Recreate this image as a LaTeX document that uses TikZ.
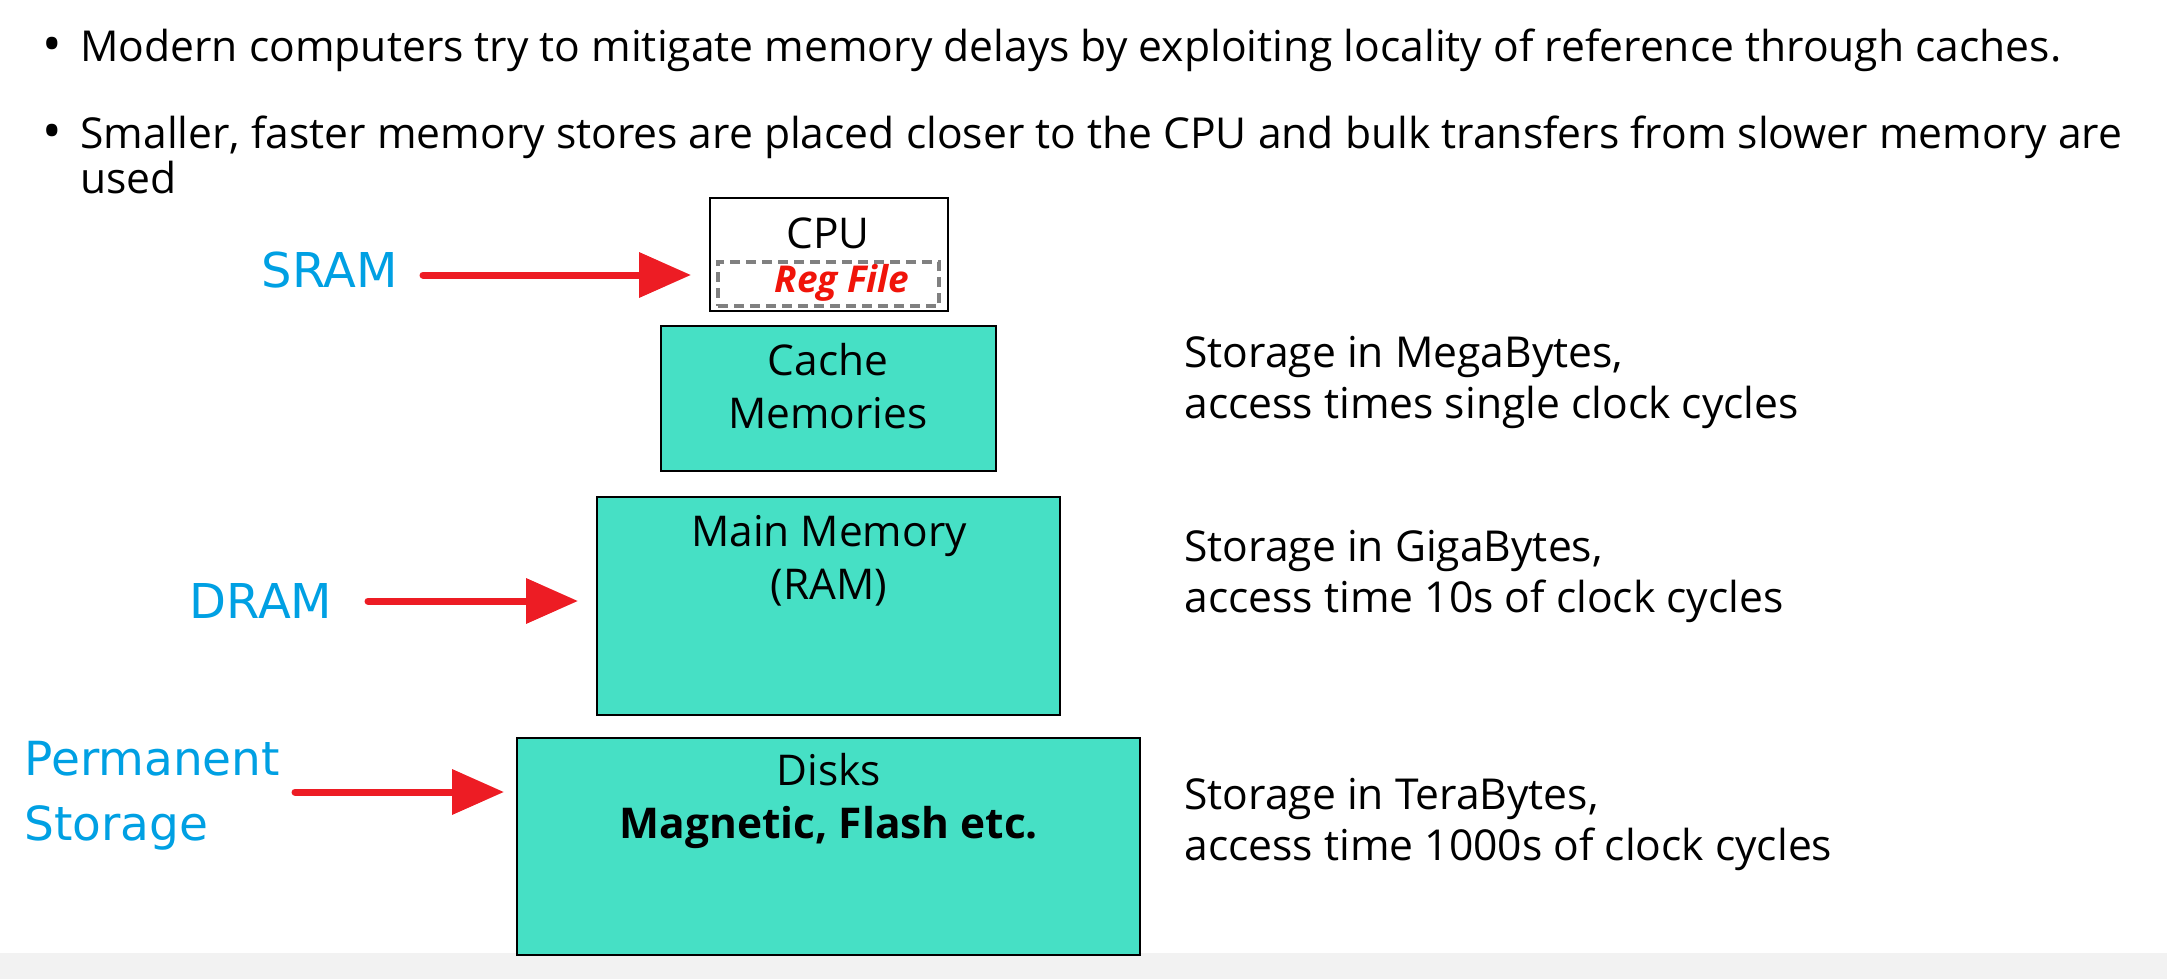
\documentclass[tikz,border=0pt]{standalone}
\usepackage{fontspec}
\setmainfont{Open Sans}
\newfontfamily\lblfont{DejaVu Sans}
\usetikzlibrary{arrows.meta}
\definecolor{boxfill}{RGB}{70,224,197}
\definecolor{lblblue}{RGB}{0,160,227}
\definecolor{arrred}{RGB}{237,28,36}
\definecolor{regred}{RGB}{240,20,10}
\definecolor{dashgray}{RGB}{128,128,128}
\definecolor{stripgray}{RGB}{242,242,242}
\begin{document}
\begin{tikzpicture}[x=0.5pt,y=-0.5pt,
  bullettxt/.style={anchor=west,inner sep=0pt,font=\fontsize{21.3pt}{22.5pt}\selectfont,align=left},
  bulletdot/.style={inner sep=0pt,font=\fontsize{26pt}{26pt}\selectfont},
  membox/.style={draw=black,line width=1pt,fill=boxfill,inner sep=0pt},
  boxtxt/.style={inner sep=0pt,align=center,font=\fontsize{21.2pt}{26.5pt}\selectfont},
  sidetxt/.style={anchor=west,inner sep=0pt,align=left,font=\fontsize{21.3pt}{25.5pt}\selectfont},
  bluelbl/.style={inner sep=0pt,text=lblblue,font=\lblfont\fontsize{24pt}{32.5pt}\selectfont,align=left},
  redarrow/.style={draw=arrred,line width=3.5pt,line cap=round,-{Triangle[length=26pt,width=22pt]}}]
\useasboundingbox (0,0) rectangle (2167,979);
\fill[stripgray] (0,953) rectangle (2167,979);
% bullets
\node[bulletdot] (b1dot) at (52,50) {•};
\node[bullettxt] (b1) at (80,50) {Modern computers try to mitigate memory delays by exploiting locality of reference through caches.};
\node[bulletdot] (b2dot) at (52,137) {•};
\node[bullettxt,anchor=north west] (b2) at (80,116) {Smaller, faster memory stores are placed closer to the CPU and bulk transfers from slower memory are\\used};
% CPU
\node[draw=black,line width=1pt,fill=white,minimum width=119pt,minimum height=56.5pt,inner sep=0pt] (cpu) at (829,254.5) {};
\node[boxtxt] (cputxt) at (828,233) {CPU};
\node[draw=dashgray,line width=2pt,dash pattern=on 5pt off 3pt,minimum width=110.5pt,minimum height=22pt,inner sep=0pt] (reg) at (828.5,284) {};
\node[inner sep=0pt,text=regred,font=\fontsize{18.5pt}{20pt}\selectfont\bfseries\itshape] (regtxt) at (842,283) {Reg File};
% memory boxes
\node[membox,minimum width=167.5pt,minimum height=72.5pt] (cache) at (828.5,398.5) {};
\node[boxtxt] (cachetxt) at (828,386) {Cache\\Memories};
\node[membox,minimum width=231.5pt,minimum height=109pt] (main) at (828.5,606) {};
\node[boxtxt] (maintxt) at (829,561) {Main Memory\\(RAM)};
\node[membox,minimum width=311.5pt,minimum height=108.5pt] (disk) at (828.5,846.5) {};
\node[boxtxt] (disktxt) at (829,801) {Disks\\\textbf{Magnetic, Flash etc.}};
% side texts
\node[sidetxt] (s1) at (1184,382) {Storage in MegaBytes,\\access times single clock cycles};
\node[sidetxt] (s2) at (1184,576) {Storage in GigaBytes,\\access time 10s of clock cycles};
\node[sidetxt] (s3) at (1184,824) {Storage in TeraBytes,\\access time 1000s of clock cycles};
% labels
\node[bluelbl] (sram) at (330,270) {SRAM};
\node[bluelbl] (dram) at (261,601) {DRAM};
\node[bluelbl,anchor=west,font=\lblfont\fontsize{23.5pt}{32.5pt}\selectfont] (perm) at (24,796) {Permanent\\Storage};
% arrows
\coordinate (sramA) at (423,275);
\coordinate (sramB) at (691,275);
\coordinate (dramA) at (368,601);
\coordinate (dramB) at (578,601);
\coordinate (permA) at (295,792);
\coordinate (permB) at (504,792);
\draw[redarrow] (sramA) -- (sramB);
\draw[redarrow] (dramA) -- (dramB);
\draw[redarrow] (permA) -- (permB);
\end{tikzpicture}
\end{document}
